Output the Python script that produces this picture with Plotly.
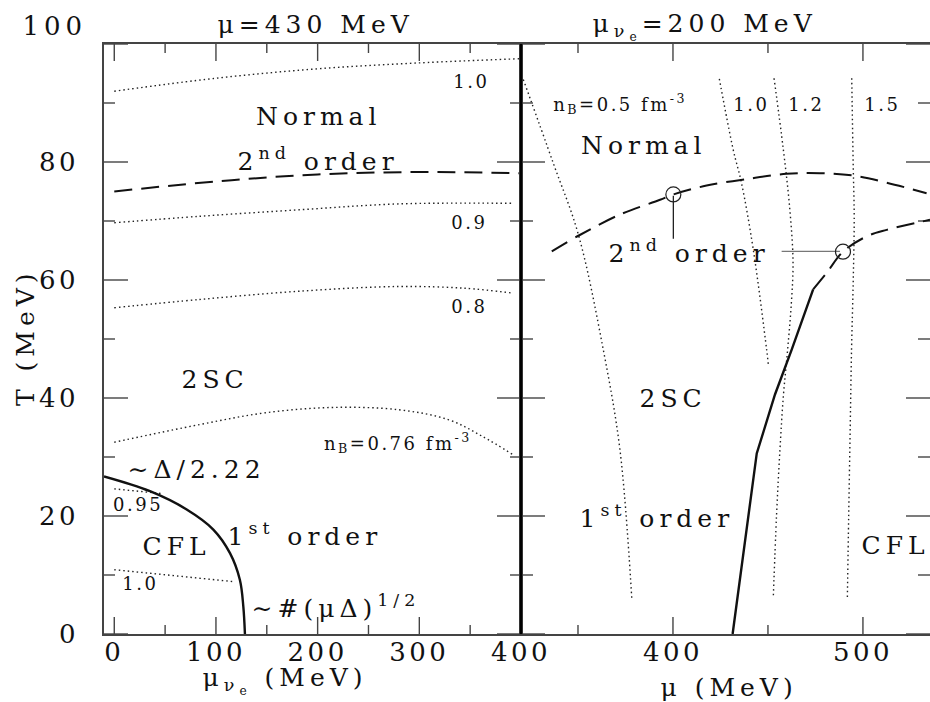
import plotly.graph_objects as go

# ---------------- left panel (mu = 430 MeV): x = mu_nu_e (MeV), y = T (MeV)
nb10_top_x = [0, 100, 200, 300, 398]
nb10_top_t = [92.0, 94.2, 95.8, 96.8, 97.5]
second_left_x = [0, 100, 200, 300, 400]
second_left_t = [75.0, 76.7, 77.9, 78.3, 78.1]
nb09_x = [0, 84, 182, 280, 391]
nb09_t = [69.7, 70.8, 71.9, 72.9, 73.0]
nb08_x = [0, 84, 182, 280, 345, 391]
nb08_t = [55.3, 56.7, 58.1, 58.9, 58.6, 57.8]
nb076_x = [0, 84, 149, 215, 280, 329, 362, 392]
nb076_t = [32.5, 35.5, 37.5, 38.4, 38.0, 36.3, 33.5, 30.4]
nb095_x = [0, 47]
nb095_t = [24.6, 23.8]
nb10_low_x = [0, 116]
nb10_low_t = [10.9, 8.9]
cfl_left_x = [-10.1, 35.1, 71.2, 97.4, 113.8, 123.5, 126.9, 128.5]
cfl_left_t = [26.7, 24.2, 21.1, 17.7, 13.7, 9.2, 4.7, 0.0]

# ---------------- right panel (mu_nu_e = 200 MeV): x = mu (MeV), y = T (MeV)
nb05_x = [321.2, 337.0, 350.2, 363.3, 372.1, 378.3]
nb05_t = [94.0, 79.8, 67.7, 48.2, 31.2, 6.1]
nb10_r_x = [424.4, 431.7, 436.1, 442.3, 449.3, 450.3]
nb10_r_t = [94.1, 82.1, 76.4, 65.1, 48.2, 45.4]
nb12_x = [453.2, 458.1, 461.5, 463.2, 462.3, 460.3, 458.1, 456.3, 454.5, 452.8]
nb12_t = [94.2, 82.1, 72.0, 63.0, 56.0, 48.0, 40.3, 31.2, 20.0, 6.1]
nb15_x = [494.1, 494.9, 495.4, 494.9, 494.0, 493.3, 492.5, 491.8]
nb15_t = [94.2, 79.0, 70.8, 60.0, 48.2, 35.0, 20.0, 6.1]
second_up_x = [336.2, 350.2, 372.1, 393.2, 400.2, 417.7, 438.8, 459.8, 477.4, 494.9, 512.5, 533.5]
second_up_t = [64.85, 67.5, 71.1, 73.6, 74.5, 76.0, 77.1, 78.0, 78.1, 77.7, 76.5, 74.7]
second_low_x = [473.8, 480.9, 489.5, 502.0, 512.5, 535.3]
second_low_t = [58.4, 61.2, 64.8, 67.4, 68.5, 70.2]
first_right_x = [431.4, 444.1, 453.7, 462.5, 473.8]
first_right_t = [0.0, 30.6, 40.6, 48.2, 58.4]
circle_x = [400.2, 489.5]
circle_t = [74.5, 64.8]
leader_v_x = [400.2, 400.2]
leader_v_t = [74.3, 67.0]
leader_h_x = [457.2, 487.9]
leader_h_t = [64.85, 64.85]

# ticks
left_x_ticks = [0, 100, 200, 300, 400]
left_x_minor = [50, 150, 250, 350]
right_x_ticks = [400, 500]
right_x_minor = [350, 450]
y_ticks = [0, 20, 40, 60, 80, 100]
y_ticklabels = ["0", "20", "40", "60", "80", ""]
y_minor = [10, 30, 50, 70, 90]

LEFT_RANGE = [-10.1, 400]
RIGHT_RANGE = [320, 535.3]
T_RANGE = [0, 100]

FONT = "DejaVu Serif"
DOT = "1.5px,3px"
DASH = "18px,9px"
DOTC = "#222222"
LINEC = "#444444"
TICKC = "#444444"

# pixel geometry of the two panels
PLOT_L, PLOT_T, PLOT_B = 104, 44, 68
W, H = 930, 702
PW = W - PLOT_L
PH = H - PLOT_T - PLOT_B
SPLIT = 417 / PW

fig = go.Figure()


def add(x, y, panel, dash, width, color="#111111", shape="spline"):
    fig.add_trace(go.Scatter(
        x=x, y=y, xaxis="x" if panel == 1 else "x2", yaxis="y" if panel == 1 else "y2",
        mode="lines", line=dict(color=color, width=width, dash=dash, shape=shape),
        hoverinfo="skip", showlegend=False))


# inside tick marks on all four sides of each panel (lengths in pixels)
def ticks_for(panel, xvals_major, xvals_minor, xrange_):
    t_per_px = (T_RANGE[1] - T_RANGE[0]) / PH
    x_per_px = (xrange_[1] - xrange_[0]) / (PW * (SPLIT if panel == 1 else 1 - SPLIT))
    for vals, ln in ((xvals_major, 17), (xvals_minor, 9)):
        for v in vals:
            add([v, v], [T_RANGE[0], T_RANGE[0] + ln * t_per_px], panel, "solid", 1.4, TICKC,
                "linear")
            add([v, v], [T_RANGE[1], T_RANGE[1] - ln * t_per_px], panel, "solid", 1.4, TICKC,
                "linear")
    for vals, ln in ((y_ticks, 24), (y_minor, 11 if panel == 1 else 12)):
        for v in vals:
            add([xrange_[0], xrange_[0] + ln * x_per_px], [v, v], panel, "solid", 1.4, TICKC,
                "linear")
            add([xrange_[1], xrange_[1] - ln * x_per_px], [v, v], panel, "solid", 1.4, TICKC,
                "linear")


ticks_for(1, left_x_ticks, left_x_minor, LEFT_RANGE)
ticks_for(2, right_x_ticks, right_x_minor, RIGHT_RANGE)

add(nb10_top_x, nb10_top_t, 1, DOT, 1.4, DOTC)
add(nb09_x, nb09_t, 1, DOT, 1.4, DOTC)
add(nb08_x, nb08_t, 1, DOT, 1.4, DOTC)
add(nb076_x, nb076_t, 1, DOT, 1.4, DOTC)
add(nb095_x, nb095_t, 1, DOT, 1.4, DOTC)
add(nb10_low_x, nb10_low_t, 1, DOT, 1.4, DOTC)
add(second_left_x, second_left_t, 1, DASH, 2.0)
add(cfl_left_x, cfl_left_t, 1, "solid", 2.4)

add(nb05_x, nb05_t, 2, DOT, 1.4, DOTC)
add(nb10_r_x, nb10_r_t, 2, DOT, 1.4, DOTC)
add(nb12_x, nb12_t, 2, DOT, 1.4, DOTC)
add(nb15_x, nb15_t, 2, DOT, 1.4, DOTC)
add(second_up_x, second_up_t, 2, DASH, 2.0)
add(second_low_x, second_low_t, 2, DASH, 2.0)
add(first_right_x, first_right_t, 2, "solid", 2.4, shape="linear")
add(leader_v_x, leader_v_t, 2, "solid", 1.3, "#222222", shape="linear")
add(leader_h_x, leader_h_t, 2, "solid", 1.3, "#777777", shape="linear")
fig.add_trace(go.Scatter(
    x=circle_x, y=circle_t, xaxis="x2", yaxis="y2", mode="markers",
    marker=dict(symbol="circle-open", size=15, color="#222222", line=dict(width=1.2, color="#222222")),
    hoverinfo="skip", showlegend=False))

tickfont = dict(family=FONT, size=26, color="#111111")
xcommon = dict(ticks="", showline=True, linecolor=LINEC, linewidth=1.5, mirror=True,
               showgrid=False, zeroline=False, tickfont=tickfont, ticklabelstandoff=-6,
               automargin=False, tickmode="array")
ycommon = dict(range=T_RANGE, ticks="", showline=True, linecolor=LINEC, linewidth=1.5,
               mirror=True, showgrid=False, zeroline=False, tickmode="array", tickvals=y_ticks,
               ticktext=y_ticklabels, tickfont=tickfont, automargin=False)

fig.update_layout(
    template="none",
    width=W, height=H, margin=dict(l=PLOT_L, r=0, t=PLOT_T, b=PLOT_B, pad=0),
    paper_bgcolor="white", plot_bgcolor="white", showlegend=False,
    xaxis=dict(domain=[0, SPLIT], range=LEFT_RANGE, anchor="y", tickvals=left_x_ticks,
               **xcommon),
    xaxis2=dict(domain=[SPLIT, 1], range=RIGHT_RANGE, anchor="y2", tickvals=right_x_ticks,
                **xcommon),
    yaxis=dict(anchor="x", ticklabelstandoff=18, **ycommon),
    yaxis2=dict(anchor="x2", matches="y", showticklabels=False, **ycommon),
)

fig.add_shape(type="line", xref="paper", yref="paper", x0=SPLIT, x1=SPLIT, y0=0, y1=1,
              line=dict(color="#000000", width=2.5))

BIG = 25
SMALL = 18


def ann(text, x, y, panel=1, size=BIG, xref=None, yref=None, xanchor="center", yanchor="middle",
        angle=0):
    fig.add_annotation(text=text, x=x, y=y,
                       xref=xref or ("x" if panel == 1 else "x2"),
                       yref=yref or ("y" if panel == 1 else "y2"),
                       xanchor=xanchor, yanchor=yanchor, showarrow=False, textangle=angle,
                       font=dict(family=FONT, size=size, color="#111111"))


def py(p):
    """pixel row -> paper y"""
    return (PLOT_T + PH - p) / PH


def px(p):
    """pixel column -> paper x"""
    return (p - PLOT_L) / PW


# left panel labels
ann("Normal", 200.6, 87.7)
ann("2<sup>nd</sup> order", 200.6, 80.4)
ann("1.0", 351.5, 93.7, size=SMALL)
ann("0.9", 349.8, 69.8, size=SMALL)
ann("0.8", 349.8, 55.5, size=SMALL)
ann("2SC", 99, 43.1)
ann("n<sub>B</sub>=0.76 fm<sup>-3</sup>", 279, 32.4, size=SMALL)
ann("∼Δ/2.22", 80.4, 27.9)
ann("0.95", 23.6, 21.9, size=SMALL)
ann("CFL", 61.4, 14.8)
ann("1<sup>st</sup> order", 187.5, 16.8)
ann("1.0", 26.1, 8.5, size=SMALL)
ann("∼#(μΔ)<sup>1/2</sup>", 218, 4.6)

# right panel labels
ann("n<sub>B</sub>=0.5 fm<sup>-3</sup>", 372.1, 89.9, 2, size=SMALL)
ann("1.0", 441.3, 89.7, 2, size=SMALL)
ann("1.2", 470.4, 89.7, 2, size=SMALL)
ann("1.5", 510.3, 89.7, 2, size=SMALL)
ann("Normal", 384.7, 82.8, 2)
ann("2<sup>nd</sup> order", 408.4, 64.85, 2)
ann("2SC", 400.2, 40.0, 2)
ann("1<sup>st</sup> order", 391.4, 19.9, 2)
ann("CFL", 517.0, 15.0, 2)

# titles and axis titles
ann("μ=430 MeV", 198.4, py(25), 1, size=25, yref="paper")
ann("μ<sub>ν<sub>e</sub></sub>=200 MeV", 371.1, py(27), 2, size=25, yref="paper",
    xanchor="left")
ann("100", px(82), py(26), size=26, xref="paper", yref="paper", xanchor="right")
ann("μ<sub>ν<sub>e</sub></sub> (MeV)", 106.9, py(680), 1, yref="paper", xanchor="left")
ann("μ (MeV)", 429.5, py(687), 2, yref="paper")
ann("T (MeV)", px(25), py(337.5), xref="paper", yref="paper", angle=-90)

post = """
document.body.style.margin = '0';
document.body.style.padding = '0';
var gd = document.getElementById('{plot_id}');
gd.querySelectorAll('text.annotation-text').forEach(function(t){
  var fs = parseFloat(t.style.fontSize);
  t.style.letterSpacing = (fs > 21 ? 5 : 2.5) + 'px';
});
gd.querySelectorAll('.xtick text, .x2tick text, .ytick text').forEach(function(t){
  t.style.letterSpacing = '3.5px';
});
"""

fig.write_html("out.html", post_script=post, config={"displayModeBar": False})
